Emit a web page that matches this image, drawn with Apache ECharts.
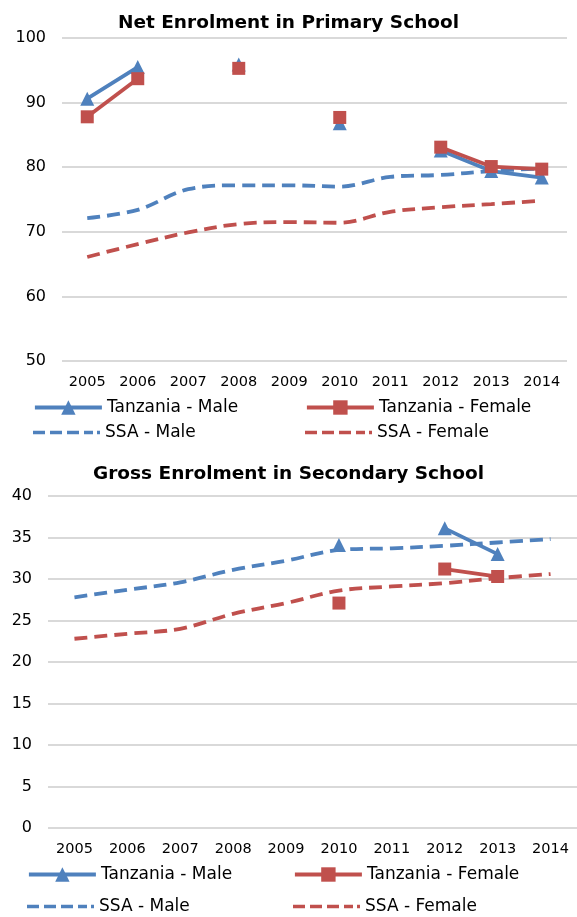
<!DOCTYPE html>
<html>
<head>
<meta charset="utf-8">
<script src="https://cdn.jsdelivr.net/npm/echarts@6/dist/echarts.min.js"></script>
<style>
  html, body { margin: 0; padding: 0; background: #fff; }
  #chart { width: 577px; height: 917px; }
</style>
</head>
<body>
<div id="chart"></div>
<script>
// Years on the horizontal axis (shared by both panels)
const years = ['2005', '2006', '2007', '2008', '2009', '2010', '2011', '2012', '2013', '2014'];

// Net enrolment in primary school (%)
const primTzMale    = [90.6, 95.5, null, 95.9, null, 86.8, null, 82.6, 79.4, 78.4];
const primTzFemale  = [87.8, 93.7, null, 95.3, null, 87.7, null, 83.1, 80.1, 79.7];
const primSsaMale   = [72.1, 73.4, 76.6, 77.2, 77.2, 77.0, 78.5, 78.8, 79.4, 79.8];
const primSsaFemale = [66.1, 68.1, 69.9, 71.2, 71.5, 71.4, 73.1, 73.8, 74.3, 74.8];

// Gross enrolment in secondary school (%)
const secTzMale    = [null, null, null, null, null, 34.1, null, 36.1, 33.0, null];
const secTzFemale  = [null, null, null, null, null, 27.1, null, 31.2, 30.3, null];
const secSsaMale   = [27.8, 28.7, 29.6, 31.1, 32.2, 33.5, 33.7, 34.0, 34.4, 34.8];
const secSsaFemale = [22.8, 23.4, 24.0, 25.8, 27.1, 28.6, 29.1, 29.5, 30.1, 30.6];

const names = ['Tanzania - Male', 'Tanzania - Female', 'SSA - Male', 'SSA - Female'];

const BLUE = '#4F81BD';
const RED = '#C0504D';
const FONT = 'DejaVu Sans';
const TEXT = '#000';

// Dashed-line legend key (four dashes and a short tail)
const DASH_ICON = 'path://M0 0H12V3.6H0Z M17 0H29V3.6H17Z M34 0H46V3.6H34Z M51 0H60V3.6H51Z M64 0H67V3.6H64Z';

function tzSeries(name, data, color, symbol, idx) {
  return {
    name, type: 'line', data,
    xAxisIndex: idx, yAxisIndex: idx,
    color,
    symbol, symbolSize: symbol === 'triangle' ? 14 : 13,
    showSymbol: true, showAllSymbol: true,
    connectNulls: false,
    lineStyle: { width: 3.8, color },
    itemStyle: { color },
    z: 3
  };
}
function ssaSeries(name, data, color, idx) {
  return {
    name, type: 'line', data,
    xAxisIndex: idx, yAxisIndex: idx,
    color,
    symbol: 'none', smooth: 0.35,
    lineStyle: { width: 3.8, color, type: [13, 7] },
    itemStyle: { color },
    z: 2
  };
}

function legendItem(name, left, top, dashed) {
  const item = dashed ? { name, icon: DASH_ICON } : { name };
  const h = dashed ? 14 : 18;
  return {
    data: [item], left, top: top - (h - 14) / 2, padding: 0,
    orient: 'horizontal',
    itemWidth: 67, itemHeight: h, itemGap: 0,
    lineStyle: { width: 3.8 },
    textStyle: { fontFamily: FONT, fontSize: 17, color: TEXT },
    selectedMode: false
  };
}

function xAxis(gridIndex) {
  return {
    type: 'category', gridIndex, data: years,
    boundaryGap: true,
    axisLine: { show: false }, axisTick: { show: false },
    axisLabel: { fontFamily: FONT, fontSize: 14.5, color: TEXT, margin: 14, interval: 0 }
  };
}
function yAxis(gridIndex, min, max, interval) {
  return {
    type: 'value', gridIndex, min, max, interval,
    axisLine: { show: false }, axisTick: { show: false },
    axisLabel: { fontFamily: FONT, fontSize: 16, color: TEXT, margin: 16 },
    splitLine: { lineStyle: { color: '#d9d9d9', width: 2 } }
  };
}

const chart = echarts.init(document.getElementById('chart'), null, { renderer: 'canvas' });
chart.setOption({
  animation: false,
  backgroundColor: '#fff',
  title: [
    { text: 'Net Enrolment in Primary School', left: 'center', top: 9,
      textStyle: { fontFamily: FONT, fontSize: 18.5, fontWeight: 'bold', color: TEXT } },
    { text: 'Gross Enrolment in Secondary School', left: 'center', top: 460,
      textStyle: { fontFamily: FONT, fontSize: 18.5, fontWeight: 'bold', color: TEXT } }
  ],
  grid: [
    { left: 62, right: 10, top: 38, height: 323 },
    { left: 48, right: 0, top: 496, height: 332 }
  ],
  xAxis: [xAxis(0), xAxis(1)],
  yAxis: [yAxis(0, 50, 100, 10), yAxis(1, 0, 40, 5)],
  legend: [
    legendItem(names[0], 33, 401, false),
    legendItem(names[1], 305, 401, false),
    legendItem(names[2], 33, 424, true),
    legendItem(names[3], 305, 424, true),
    legendItem(names[0], 27, 868, false),
    legendItem(names[1], 293, 868, false),
    legendItem(names[2], 27, 898, true),
    legendItem(names[3], 293, 898, true)
  ],
  series: [
    ssaSeries(names[2], primSsaMale, BLUE, 0),
    ssaSeries(names[3], primSsaFemale, RED, 0),
    tzSeries(names[0], primTzMale, BLUE, 'triangle', 0),
    tzSeries(names[1], primTzFemale, RED, 'rect', 0),
    ssaSeries(names[2], secSsaMale, BLUE, 1),
    ssaSeries(names[3], secSsaFemale, RED, 1),
    tzSeries(names[0], secTzMale, BLUE, 'triangle', 1),
    tzSeries(names[1], secTzFemale, RED, 'rect', 1)
  ]
});
</script>
</body>
</html>
